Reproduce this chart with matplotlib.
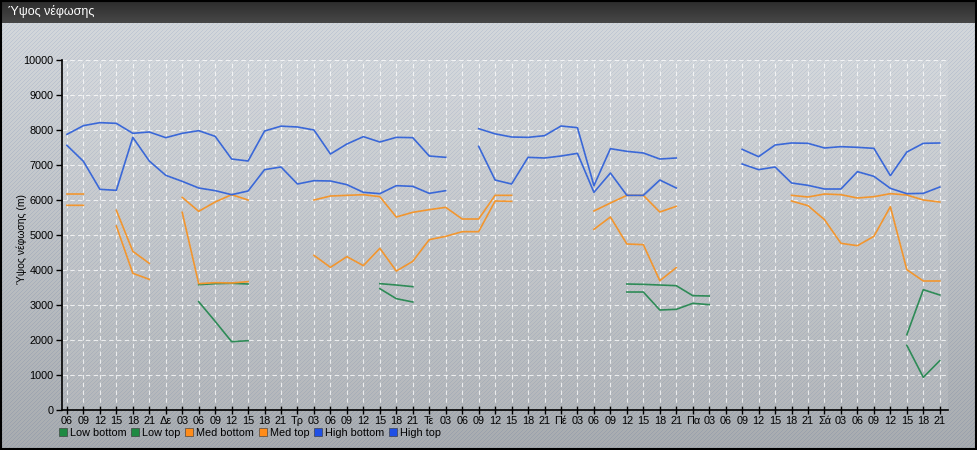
import numpy as np
import matplotlib
matplotlib.use('Agg')
import matplotlib.pyplot as plt
from matplotlib.lines import Line2D
from matplotlib.patches import Rectangle

plt.rcParams['font.family'] = ['Liberation Sans', 'DejaVu Sans']

N = None

x_labels = ['06', '09', '12', '15', '18', '21',
            'Δε', '03', '06', '09', '12', '15', '18', '21',
            'Τρ', '03', '06', '09', '12', '15', '18', '21',
            'Τε', '03', '06', '09', '12', '15', '18', '21',
            'Πέ', '03', '06', '09', '12', '15', '18', '21',
            'Πα', '03', '06', '09', '12', '15', '18', '21',
            'Σά', '03', '06', '09', '12', '15', '18', '21']

high_top = [7876, 8124, 8210, 8190, 7905, 7943, 7781, 7905, 7981, 7819, 7171, 7114, 7971, 8110,
            8086, 8000, 7314, 7600, 7810, 7657, 7790, 7781, 7257, 7219, N, 8038, 7890, 7800,
            7790, 7838, 8114, 8067, 6410, 7467, 7390, 7343, 7171, 7200, N, N, N, 7448,
            7238, 7571, 7629, 7619, 7486, 7524, 7505, 7476, 6695, 7371, 7619, 7629]

high_bottom = [7562, 7105, 6305, 6276, 7790, 7114, 6705, 6533, 6343, 6267, 6152, 6257, 6867, 6943,
               6457, 6552, 6543, 6438, 6219, 6181, 6410, 6390, 6190, 6267, N, 7533, 6570, 6457,
               7219, 7200, 7257, 7333, 6219, 6771, 6133, 6133, 6571, 6343, N, N, N, 7029,
               6867, 6943, 6486, 6419, 6314, 6314, 6810, 6676, 6333, 6181, 6190, 6371]

med_top = [6171, 6171, N, 5705, 4533, 4190, N, 6076, 5676, 5943, 6152, 6000, N, N,
           N, 6000, 6114, 6133, 6152, 6095, 5514, 5648, 5724, 5790, 5457, 5457, 6133, 6133,
           N, N, N, N, 5686, 5914, 6133, 6133, 5657, 5819, N, N, N, N,
           N, N, 6133, 6086, 6171, 6152, 6057, 6095, 6181, 6143, 6000, 5943]

med_bottom = [5848, 5848, N, 5257, 3905, 3733, N, 5648, 3610, 3638, 3629, 3667, N, N,
              N, 4419, 4076, 4381, 4124, 4619, 3971, 4248, 4867, 4962, 5095, 5095, 5971, 5962,
              N, N, N, N, 5162, 5514, 4743, 4724, 3695, 4067, N, N, N, N,
              N, N, 5971, 5838, 5438, 4762, 4695, 4962, 5810, 4010, 3686, 3686]

low_top = [N, N, N, N, N, N, N, N, 3580, 3610, 3620, 3600, N, N,
           N, N, N, N, N, 3610, 3571, 3524, N, N, N, N, N, N,
           N, N, N, N, N, N, 3600, 3590, 3571, 3552, 3267, 3257, N, N,
           N, N, N, N, N, N, N, N, N, 2152, 3438, 3286]

low_bottom = [N, N, N, N, N, N, N, N, 3095, 2533, 1952, 1981, N, N,
              N, N, N, N, N, 3467, 3181, 3086, N, N, N, N, N, N,
              N, N, N, N, N, N, 3371, 3371, 2857, 2876, 3048, 3010, N, N,
              N, N, N, N, N, N, N, N, N, 1848, 933, 1410]

series_names = ['Low bottom', 'Low top', 'Med bottom', 'Med top', 'High bottom', 'High top']
series_data = [low_bottom, low_top, med_bottom, med_top, high_bottom, high_top]
line_colors = ['#2e8b57', '#2e8b57', '#f2962f', '#f2962f', '#3a68d8', '#3a68d8']
marker_colors = ['#1e8a42', '#1e8a42', '#ff8c1a', '#ff8c1a', '#1f50e6', '#1f50e6']

W, H = 978, 450
fig = plt.figure(figsize=(W / 100, H / 100), dpi=100)

# background: gradient with diagonal stripes, dark title bar
bg = fig.add_axes([0, 0, 1, 1], zorder=-10)
rows = np.arange(H)[:, None]
cols = np.arange(W)[None, :]
t = np.clip((rows - 22) / (H - 22), 0, 1)
top_c = np.array([0.83, 0.845, 0.86])
bot_c = np.array([0.66, 0.675, 0.69])
img = top_c[None, None, :] * (1 - t[..., None]) + bot_c[None, None, :] * t[..., None]
img = np.broadcast_to(img, (H, W, 3)).copy()
stripe = ((cols + rows) % 4 == 0)
img[stripe] = img[stripe] * np.array([0.91, 0.93, 0.97])
tb = rows[:23, 0] / 22.0
title_top = np.array([0.17, 0.17, 0.17])
title_bot = np.array([0.28, 0.28, 0.28])
img[:23] = (title_top[None, :] * (1 - tb[:, None]) + title_bot[None, :] * tb[:, None])[:, None, :]
bg.imshow(img, aspect='auto', extent=[0, 1, 0, 1], origin='upper')
bg.set_axis_off()
bg.add_patch(Rectangle((0.001, 0.002), 0.997, 0.996, fill=False, edgecolor='black',
                       linewidth=1.5, transform=bg.transAxes))

fig.text(8 / W, 1 - 12 / H, 'Ύψος νέφωσης', color='white', fontsize=9,
         va='center', ha='left')

ax = fig.add_axes([62 / W, 1 - 410 / H, (948 - 62) / W, (410 - 60) / H])
ax.set_facecolor((1, 1, 1, 0.10))
x = np.arange(len(x_labels))
for name, vals, c in zip(series_names, series_data, line_colors):
    arr = np.array([np.nan if v is None else v for v in vals], dtype=float)
    ax.plot(x, arr, color=c, linewidth=1.2, solid_joinstyle='round')

ax.set_xlim(-0.3, 53.5)
ax.set_ylim(0, 10000)
ax.set_yticks(np.arange(0, 10001, 1000))
ax.set_xticks(x)
ax.set_xticklabels(x_labels, fontsize=7.8)
ax.tick_params(axis='y', labelsize=7.8, direction='out', length=4, width=1, pad=2)
ax.tick_params(axis='x', direction='inout', length=6, width=1, pad=1)
for s in ['top', 'right']:
    ax.spines[s].set_visible(False)
ax.spines['left'].set_linewidth(1.2)
ax.spines['bottom'].set_linewidth(1.2)
ax.grid(True, color='white', linestyle=(0, (4, 3)), linewidth=0.8, alpha=0.75)
ax.set_axisbelow(True)
ax.set_ylabel('Ύψος νέφωσης (m)', fontsize=7.5)
ax.yaxis.set_label_coords(-35 / 886, 0.49)

handles = [Line2D([0], [0], linestyle='none', marker='s', markersize=5.5,
                  markerfacecolor=mc, markeredgecolor='#333333', markeredgewidth=0.4)
           for mc in marker_colors]
fig.legend(handles, series_names, loc='center left', bbox_to_anchor=(59 / W, 1 - 433 / H),
           ncol=6, frameon=False, fontsize=7.8, handlelength=0.7, handletextpad=0.3,
           columnspacing=0.45, borderaxespad=0, borderpad=0)

fig.savefig('out.png', dpi=100)
